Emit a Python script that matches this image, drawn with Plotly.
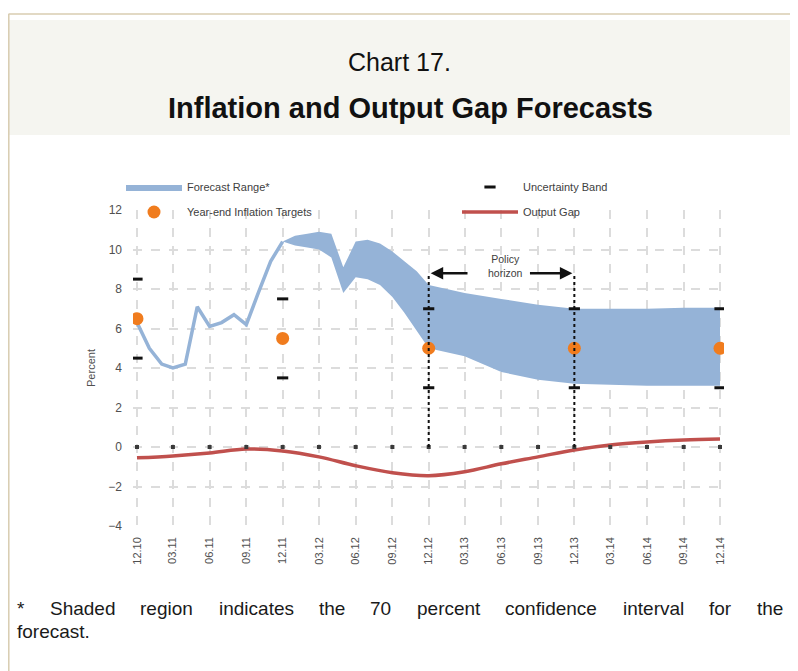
import plotly.graph_objects as go

# ---------------- data ----------------
actual_months = ["2010-12-01", "2011-01-01", "2011-02-01", "2011-03-01", "2011-04-01",
                 "2011-05-01", "2011-06-01", "2011-07-01", "2011-08-01", "2011-09-01",
                 "2011-10-01", "2011-11-01", "2011-12-01"]
actual_inflation = [6.3, 5.0, 4.2, 4.0, 4.2, 7.1, 6.1, 6.3, 6.7, 6.2, 7.8, 9.4, 10.4]

forecast_months = ["2011-12-01", "2012-01-01", "2012-02-01", "2012-03-01", "2012-04-01",
                   "2012-05-01", "2012-06-01", "2012-07-01", "2012-08-01", "2012-09-01",
                   "2012-10-01", "2012-11-01", "2012-12-01", "2013-03-01", "2013-06-01",
                   "2013-09-01", "2013-12-01", "2014-03-01", "2014-06-01", "2014-09-01",
                   "2014-12-01"]
forecast_upper = [10.4, 10.7, 10.8, 10.9, 10.8, 9.1, 10.4, 10.5, 10.3, 9.9, 9.4, 8.9, 8.2,
                  7.8, 7.5, 7.2, 7.0, 7.0, 7.0, 7.05, 7.05]
forecast_lower = [10.4, 10.2, 10.1, 10.0, 9.6, 7.8, 8.6, 8.5, 8.2, 7.6, 6.8, 5.9, 5.0,
                  4.6, 3.8, 3.4, 3.2, 3.15, 3.1, 3.1, 3.1]

quarter_dates = ["2010-12-01", "2011-03-01", "2011-06-01", "2011-09-01", "2011-12-01",
                 "2012-03-01", "2012-06-01", "2012-09-01", "2012-12-01", "2013-03-01",
                 "2013-06-01", "2013-09-01", "2013-12-01", "2014-03-01", "2014-06-01",
                 "2014-09-01", "2014-12-01"]
quarter_labels = ["12.10", "03.11", "06.11", "09.11", "12.11", "03.12", "06.12", "09.12",
                  "12.12", "03.13", "06.13", "09.13", "12.13", "03.14", "06.14", "09.14",
                  "12.14"]
output_gap = [-0.55, -0.45, -0.3, -0.1, -0.2, -0.5, -0.95, -1.3, -1.45, -1.25, -0.85,
              -0.5, -0.15, 0.1, 0.25, 0.35, 0.4]

target_dates = ["2010-12-01", "2011-12-01", "2012-12-01", "2013-12-01", "2014-12-01"]
target_values = [6.5, 5.5, 5.0, 5.0, 5.0]
band_upper = [8.5, 7.5, 7.0, 7.0, 7.0]
band_lower = [4.5, 3.5, 3.0, 3.0, 3.0]

horizon_dates = ["2012-12-01", "2013-12-01"]
horizon_level = 8.8

y_ticks = [12, 10, 8, 6, 4, 2, 0, -2, -4]

# ---------------- styling ----------------
OFF = 8                                   # page body margin of the html page
W, H = 798 - OFF, 671 - OFF
L, T, PW, PH = 133, 210, 591, 316        # plot area in page pixels
FONT = "Arial, Liberation Sans, sans-serif"
BLUE = "#95b3d7"
RED = "#c0504d"
ORANGE = "#f07c1e"
GRAY_TXT = "#404040"


def px(x):
    return (x - L) / PW


def py(y):
    return (T + PH - y) / PH


fig = go.Figure()

# forecast range (fan)
fig.add_trace(go.Scatter(x=forecast_months, y=forecast_lower, mode="lines",
                         line=dict(width=0, color=BLUE), showlegend=False,
                         hoverinfo="skip"))
fig.add_trace(go.Scatter(x=forecast_months, y=forecast_upper, mode="lines",
                         line=dict(width=0, color=BLUE), fill="tonexty",
                         fillcolor=BLUE, name="Forecast Range*", legend="legend"))
# actual inflation
fig.add_trace(go.Scatter(x=actual_months, y=actual_inflation, mode="lines",
                         line=dict(width=3.5, color=BLUE), showlegend=False))
# output gap
fig.add_trace(go.Scatter(x=quarter_dates, y=output_gap, mode="lines",
                         line=dict(width=3.5, color=RED, shape="spline", smoothing=1.0),
                         name="Output Gap", legend="legend4"))
# axis tick marks sitting on the zero line
fig.add_trace(go.Scatter(x=quarter_dates, y=[0] * len(quarter_dates), mode="markers",
                         marker=dict(symbol="square", size=4, color="#3a3a3a"),
                         showlegend=False, hoverinfo="skip"))
# uncertainty band
fig.add_trace(go.Scatter(x=target_dates + target_dates, y=band_upper + band_lower,
                         mode="markers",
                         marker=dict(symbol="line-ew", size=8,
                                     line=dict(width=3, color="#111111")),
                         name="Uncertainty Band", legend="legend2"))
# targets
fig.add_trace(go.Scatter(x=target_dates, y=target_values, mode="markers",
                         marker=dict(size=13, color=ORANGE),
                         name="Year-end Inflation Targets", legend="legend3"))

shapes = []
for d in horizon_dates:
    shapes.append(dict(type="line", xref="x", yref="y", x0=d, x1=d, y0=0, y1=horizon_level,
                       line=dict(color="#111111", width=2, dash="dot"), layer="above"))

# frame + title background
shapes.append(dict(type="rect", xref="paper", yref="paper", x0=px(9), x1=px(800),
                   y0=py(135), y1=py(20), fillcolor="#f5f5f0", line=dict(width=0),
                   layer="below"))
shapes.append(dict(type="line", xref="paper", yref="paper", x0=px(8.5), x1=px(800),
                   y0=py(14), y1=py(14), line=dict(color="#d8ccb0", width=1.5)))
shapes.append(dict(type="line", xref="paper", yref="paper", x0=px(8.8), x1=px(8.8),
                   y0=py(14), y1=py(680), line=dict(color="#d8ccb0", width=1.5)))

annotations = [
    dict(text="Chart 17.", xref="paper", yref="paper", x=px(399), y=py(62),
         xanchor="center", yanchor="middle", showarrow=False,
         font=dict(family=FONT, size=25, color="#111111")),
    dict(text="<b>Inflation and Output Gap Forecasts</b>", xref="paper", yref="paper",
         x=px(410), y=py(108), xanchor="center", yanchor="middle", showarrow=False,
         font=dict(family=FONT, size=29, color="#111111")),
    dict(text="Policy<br>horizon", x="2013-06-12", y=9.15, xref="x", yref="y",
         xanchor="center", yanchor="middle", showarrow=False,
         font=dict(family=FONT, size=10.5, color="#404040")),
    dict(text="", x=horizon_dates[0], y=horizon_level, ax="2013-03-12", ay=horizon_level,
         xref="x", yref="y", axref="x", ayref="y", showarrow=True, arrowhead=2,
         arrowsize=1, arrowwidth=2.5, arrowcolor="#111111", standoff=2),
    dict(text="", x=horizon_dates[1], y=horizon_level, ax="2013-08-08", ay=horizon_level,
         xref="x", yref="y", axref="x", ayref="y", showarrow=True, arrowhead=2,
         arrowsize=1, arrowwidth=2.5, arrowcolor="#111111", standoff=2),
]

# justified footnote (Arial metrics)
AW = {' ': 278, '*': 389, '.': 278, '0': 556, '7': 556, 'S': 667, 'a': 556, 'c': 500,
      'd': 556, 'e': 556, 'f': 278, 'g': 556, 'h': 556, 'i': 222, 'l': 222, 'n': 556,
      'o': 556, 'p': 556, 'r': 333, 's': 500, 't': 278, 'v': 500}
FN_SIZE = 19
line1 = "* Shaded region indicates the 70 percent confidence interval for the".split(" ")
left, right = 15, 781
widths = [sum(AW.get(c, 556) for c in w) * FN_SIZE / 1000 for w in line1]
gap = (right - left - sum(widths)) / (len(line1) - 1)
xpos = left
for w, wd in zip(line1, widths):
    annotations.append(dict(text=w, xref="paper", yref="paper", x=px(xpos), y=py(608),
                            xanchor="left", yanchor="middle", showarrow=False,
                            font=dict(family=FONT, size=FN_SIZE, color="#1a1a1a")))
    xpos += wd + gap
annotations.append(dict(text="forecast.", xref="paper", yref="paper", x=px(left),
                        y=py(631), xanchor="left", yanchor="middle", showarrow=False,
                        font=dict(family=FONT, size=FN_SIZE, color="#1a1a1a")))


def legend_box(xpage, ypage):
    return dict(x=px(xpage), y=py(ypage), xanchor="left", yanchor="middle",
                orientation="h", itemwidth=56, bgcolor="rgba(0,0,0,0)",
                font=dict(family=FONT, size=11, color=GRAY_TXT))


fig.update_layout(
    width=W, height=H,
    margin=dict(l=L - OFF, r=W - (L - OFF) - PW, t=T - OFF, b=H - (T - OFF) - PH),
    paper_bgcolor="white", plot_bgcolor="white",
    showlegend=True,
    legend=legend_box(121, 187),
    legend2=legend_box(457, 187),
    legend3=legend_box(121, 212),
    legend4=legend_box(457, 212),
    xaxis=dict(type="date", range=["2010-11-21", "2014-12-11"],
               tickmode="array", tickvals=quarter_dates, ticktext=quarter_labels,
               tickangle=-90, showgrid=True, gridcolor="#dcdcdc", griddash="dash",
               gridwidth=1.5, zeroline=False, showline=False, ticks="",
               ticklabelstandoff=8,
               tickfont=dict(family=FONT, size=11, color="#505050")),
    yaxis=dict(range=[-4, 12], tickmode="array", tickvals=y_ticks,
               showgrid=True, gridcolor="#dcdcdc", griddash="dash", gridwidth=1.5,
               zeroline=False, showline=False, ticks="", ticklabelstandoff=10,
               tickfont=dict(family=FONT, size=12, color="#505050"),
               title=dict(text="Percent", font=dict(family=FONT, size=11, color="#505050"),
                          standoff=10)),
    shapes=shapes, annotations=annotations,
)

fig.write_html("out.html")
